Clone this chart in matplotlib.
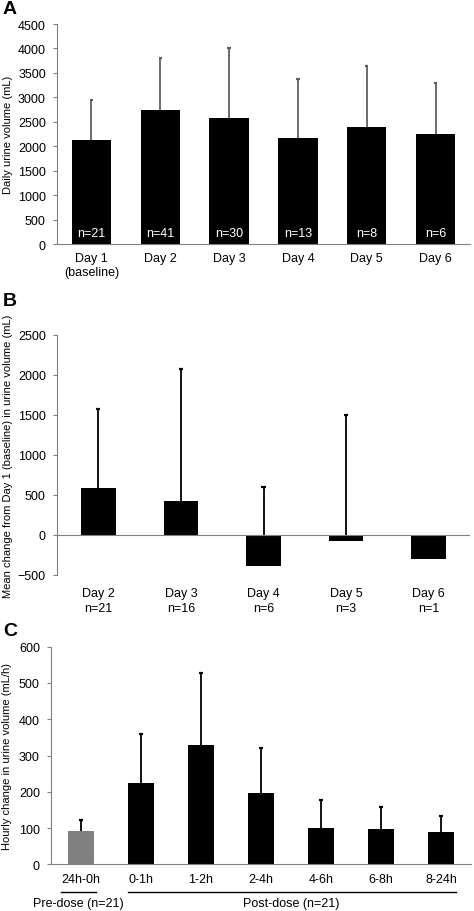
import numpy as np
import matplotlib
matplotlib.use('Agg')
import matplotlib.pyplot as plt

plt.rcParams['font.family'] = ['Liberation Sans', 'DejaVu Sans']
plt.rcParams['font.size'] = 9

# panel A
a_labels = ['Day 1\n(baseline)', 'Day 2', 'Day 3', 'Day 4', 'Day 5', 'Day 6']
a_mean = [2130, 2735, 2585, 2160, 2395, 2255]
a_top = [2950, 3810, 4010, 3380, 3640, 3290]
a_n = ['n=21', 'n=41', 'n=30', 'n=13', 'n=8', 'n=6']

# panel B
b_labels = ['Day 2\nn=21', 'Day 3\nn=16', 'Day 4\nn=6', 'Day 5\nn=3', 'Day 6\nn=1']
b_mean = [590, 420, -383, -80, -295]
b_top = [1573, 2070, 603, 1500, np.nan]

# panel C
c_labels = ['24h-0h', '0-1h', '1-2h', '2-4h', '4-6h', '6-8h', '8-24h']
c_mean = [91, 225, 330, 197, 101, 96, 89]
c_top = [123, 359, 528, 320, 176, 158, 134]
c_colors = ['#808080'] + ['black'] * 6

spine_c = '#808080'


def style(ax):
    for s in ['top', 'right']:
        ax.spines[s].set_visible(False)
    ax.spines['left'].set_color(spine_c)
    ax.spines['bottom'].set_color(spine_c)
    ax.tick_params(axis='y', direction='out', length=3, color=spine_c, pad=5, labelsize=9)
    ax.tick_params(axis='x', length=0, pad=6, labelsize=9)


def upper_err(ax, x, mean, top, color, cap=0.025, z=1):
    # only the upper whisker with a small cap
    for xi, m, t in zip(x, mean, top):
        if np.isnan(t):
            continue
        ax.vlines(xi, m, t, color=color, lw=1.3, zorder=z)
        ax.hlines(t, xi - cap, xi + cap, color=color, lw=1.6, zorder=z)


fig = plt.figure(figsize=(4.74, 9.12), dpi=100)
W, H = 474, 912


def add_ax(l, r, t, b):
    return fig.add_axes([l / W, 1 - b / H, (r - l) / W, (b - t) / H])


# ---- A ----
ax1 = add_ax(57, 470, 25, 245)
x = np.arange(len(a_labels))
ax1.bar(x, a_mean, width=0.57, color='black', zorder=2)
upper_err(ax1, x, a_mean, a_top, '#606060')
for xi, t in zip(x, a_n):
    ax1.text(xi, 230, t, color='white', ha='center', va='center', fontsize=9, zorder=3)
ax1.set_xlim(-0.5, len(x) - 0.5)
ax1.set_ylim(0, 4500)
ax1.set_yticks(np.arange(0, 4501, 500))
ax1.set_xticks(x)
ax1.set_xticklabels(a_labels, linespacing=1.2)
ax1.set_ylabel('Daily urine volume (mL)', fontsize=8)
ax1.yaxis.set_label_coords(-0.107, 0.5)
style(ax1)

# ---- B ----
ax2 = add_ax(57, 470, 335.7, 576)
x = np.arange(len(b_labels))
ax2.bar(x, b_mean, width=0.42, color='black', zorder=2)
upper_err(ax2, x, b_mean, b_top, 'black')
ax2.axhline(0, color=spine_c, lw=0.8, zorder=3)
ax2.set_xlim(-0.5, len(x) - 0.5)
ax2.set_ylim(-500, 2500)
ax2.set_yticks(np.arange(-500, 2501, 500))
ax2.set_xticks(x)
ax2.set_xticklabels(b_labels, linespacing=1.25)
ax2.set_ylabel('Mean change from Day 1 (baseline) in urine volume (mL)', fontsize=8)
ax2.yaxis.set_label_coords(-0.107, 0.5)
style(ax2)
ax2.spines['bottom'].set_visible(False)
ax2.tick_params(axis='x', pad=9)

# ---- C ----
ax3 = add_ax(51, 471, 647.7, 865.3)
x = np.arange(len(c_labels))
ax3.bar(x, c_mean, width=0.43, color=c_colors, zorder=2)
upper_err(ax3, x, c_mean, c_top, 'black', cap=0.03, z=3)
ax3.set_xlim(-0.5, len(x) - 0.5)
ax3.set_ylim(0, 600)
ax3.set_yticks(np.arange(0, 601, 100))
ax3.set_xticks(x)
ax3.set_xticklabels(c_labels)
ax3.set_ylabel('Hourly change in urine volume (mL/h)', fontsize=8)
ax3.yaxis.set_label_coords(-0.092, 0.5)
style(ax3)

# group brackets under panel C
trans = ax3.get_xaxis_transform()
ax3.plot([-0.33, 0.25], [-0.128, -0.128], color='black', lw=1, transform=trans, clip_on=False)
ax3.text(-0.04, -0.18, 'Pre-dose (n=21)', ha='center', va='center', fontsize=9, transform=trans)
ax3.plot([0.78, 6.25], [-0.128, -0.128], color='black', lw=1, transform=trans, clip_on=False)
ax3.text(3.5, -0.18, 'Post-dose (n=21)', ha='center', va='center', fontsize=9, transform=trans)

# panel letters
for lab, yy in [('A', 10), ('B', 301), ('C', 631)]:
    fig.text(3 / W, 1 - yy / H, lab, fontsize=14, fontweight='bold', ha='left', va='center')

fig.savefig('out.png', dpi=100)
